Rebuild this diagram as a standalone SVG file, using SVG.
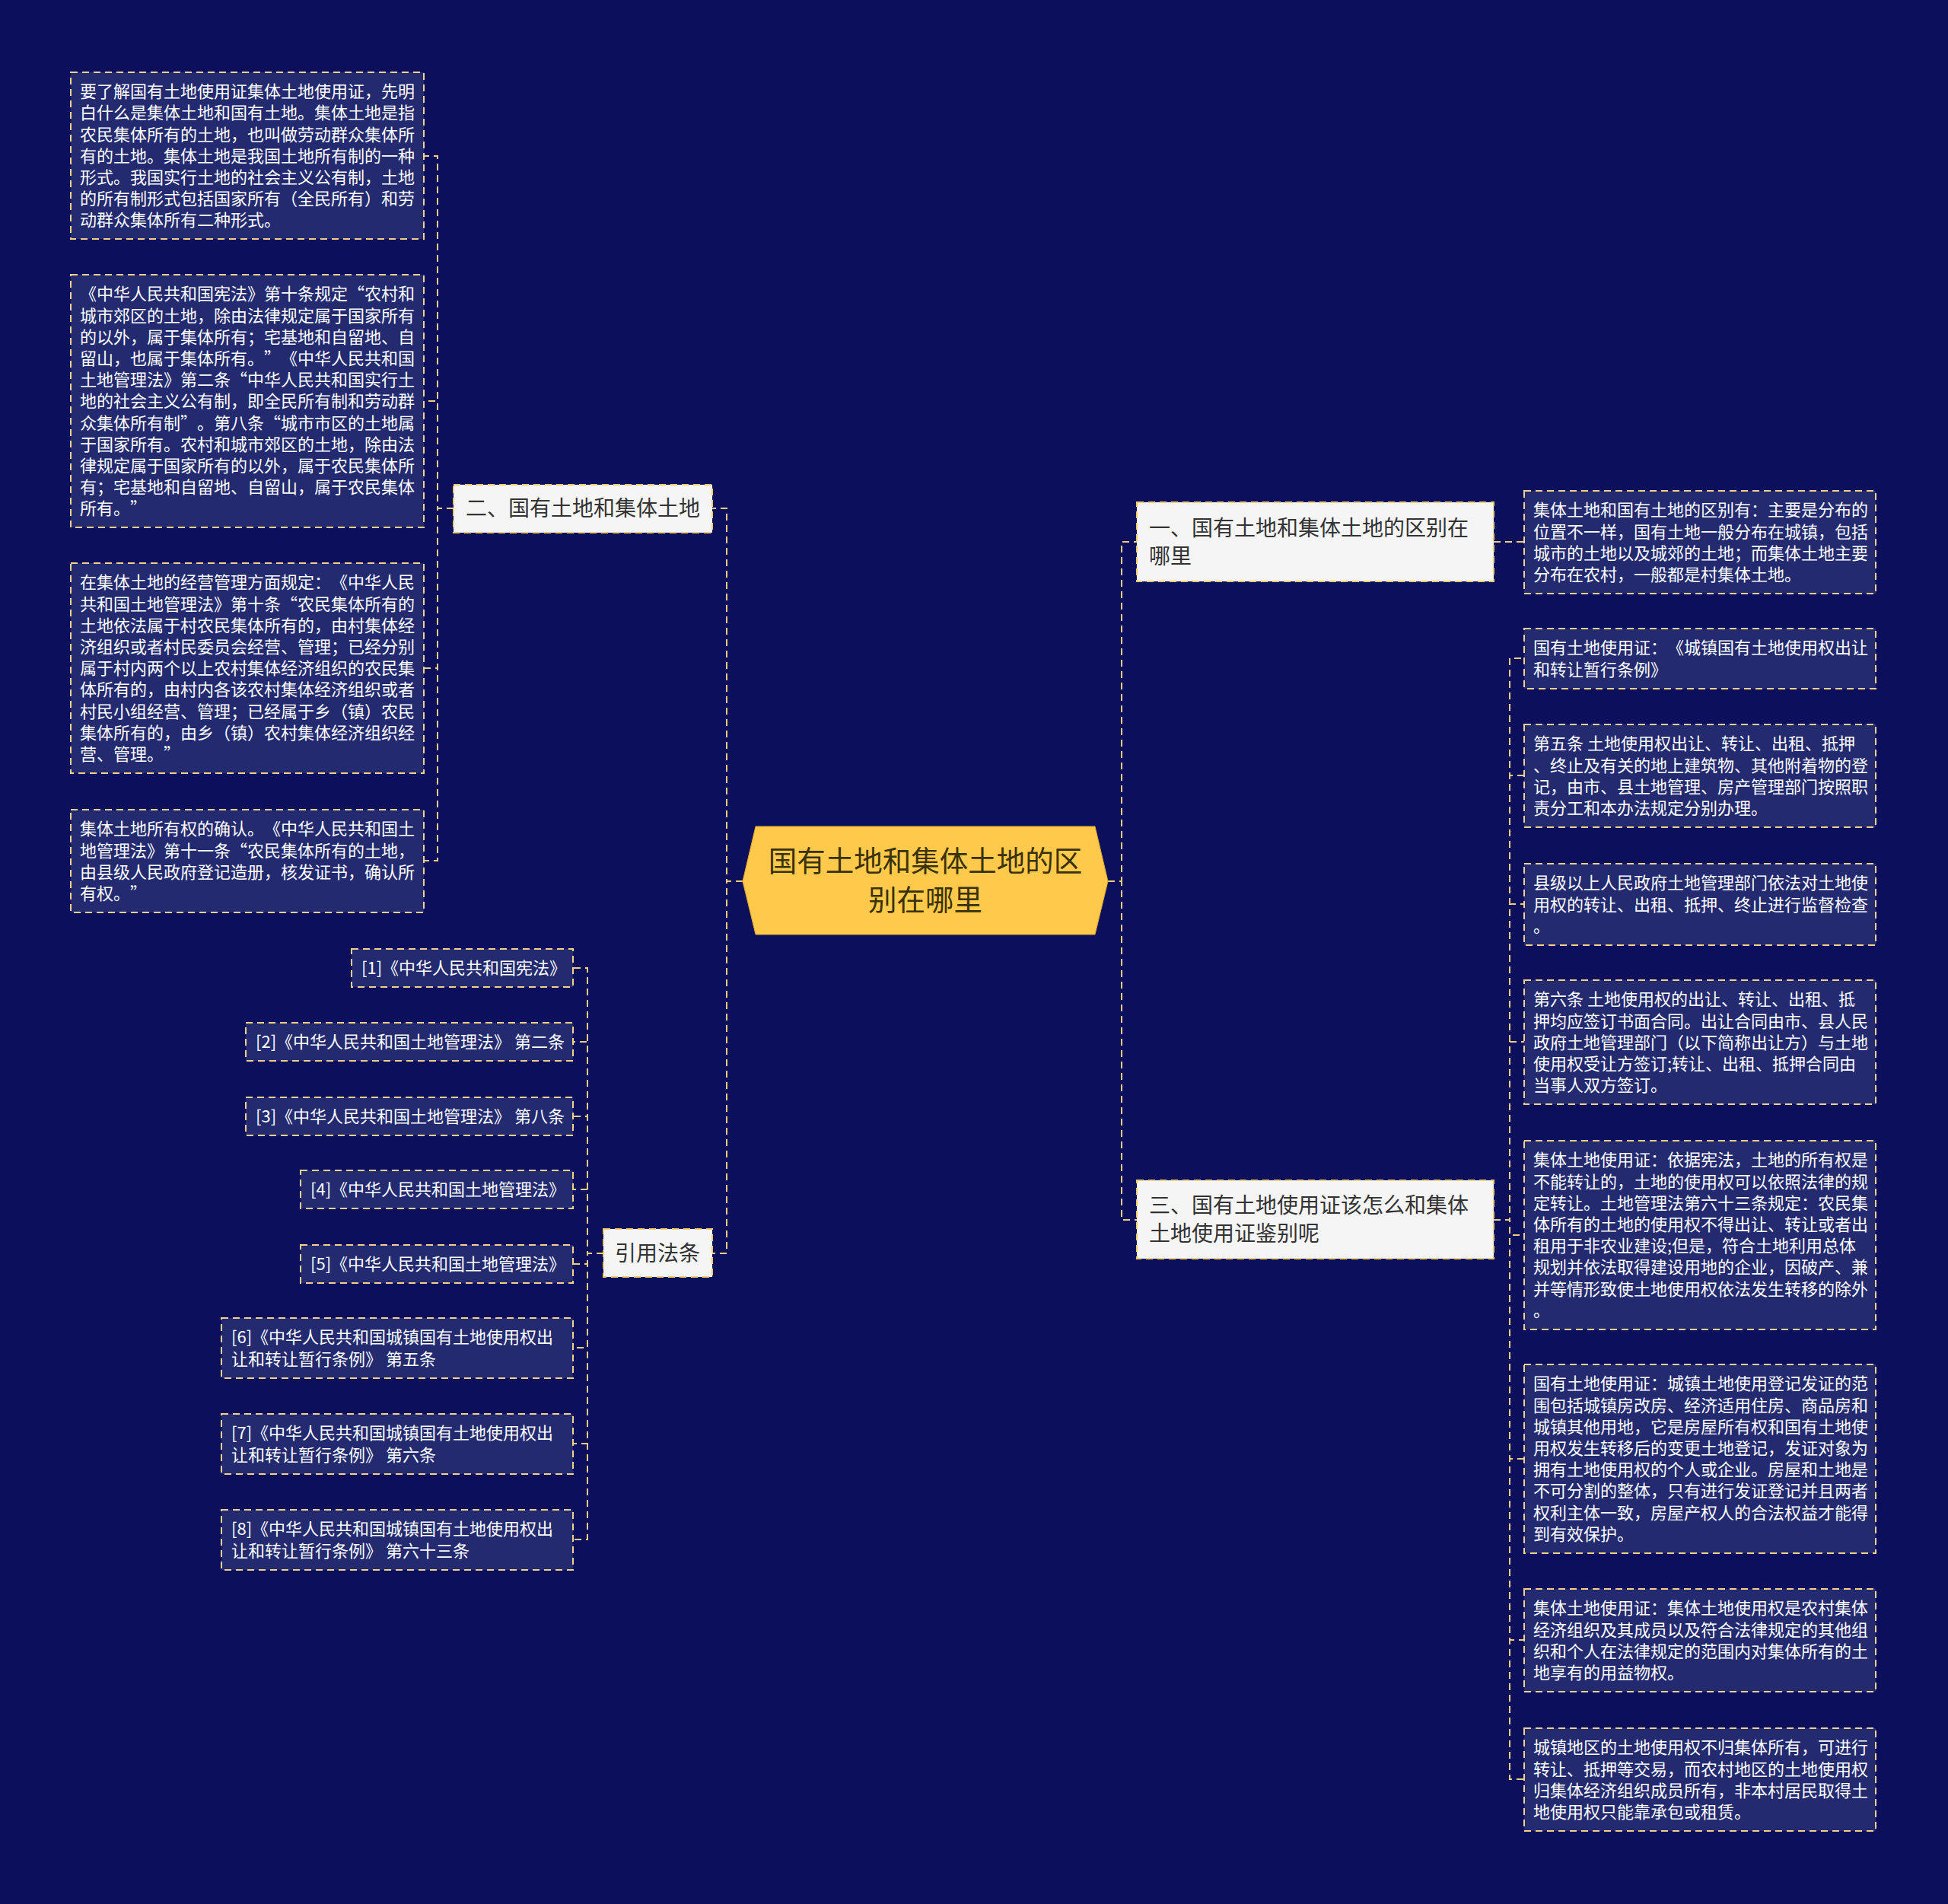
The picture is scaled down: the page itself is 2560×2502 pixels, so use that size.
<svg xmlns="http://www.w3.org/2000/svg" width="2560" height="2502" viewBox="0 0 2560 2502">
<style>
text{text-spacing-trim:space-all}
.n2 rect{fill:#232a6f;stroke:#f2d18c;stroke-width:2;stroke-dasharray:9 6}
.n1 rect{fill:#f5f5f5;stroke:#f2cc6e;stroke-width:2;stroke-dasharray:9 6}
.t2{font-family:"Noto Sans CJK SC","Noto Sans",sans-serif;font-size:22px;fill:#ffffff}
.tr{font-family:"Noto Sans CJK SC","Noto Sans",sans-serif;font-size:22px;fill:#ffffff}
.t1{font-family:"Noto Sans CJK SC","Noto Sans",sans-serif;font-size:28px;fill:#333333}
.t0{font-family:"Noto Sans CJK SC","Noto Sans",sans-serif;font-size:37.5px;fill:#3a3205}
.conn path{fill:none;stroke:#f0cd7e;stroke-width:2;stroke-dasharray:9 6}
</style>
<rect x="0" y="0" width="2560" height="2502" fill="#0b0f5c"/>
<g class="conn">
<path d="M976,1158 H955 V668 H936"/>
<path d="M976,1158 H955 V1647 H936"/>
<path d="M1456,1158 H1474 V712 H1494"/>
<path d="M1456,1158 H1474 V1603 H1494"/>
<path d="M596,668 H575 V205 H557"/>
<path d="M596,668 H575 V527 H557"/>
<path d="M596,668 H575 V878 H557"/>
<path d="M596,668 H575 V1131 H557"/>
<path d="M793,1647 H772 V1272 H753"/>
<path d="M793,1647 H772 V1369 H753"/>
<path d="M793,1647 H772 V1467 H753"/>
<path d="M793,1647 H772 V1563 H753"/>
<path d="M793,1647 H772 V1661 H753"/>
<path d="M793,1647 H772 V1771 H753"/>
<path d="M793,1647 H772 V1897 H753"/>
<path d="M793,1647 H772 V2023 H753"/>
<path d="M1963,712 H1984 V712 H2003"/>
<path d="M1963,1603 H1984 V865 H2003"/>
<path d="M1963,1603 H1984 V1019 H2003"/>
<path d="M1963,1603 H1984 V1188 H2003"/>
<path d="M1963,1603 H1984 V1369 H2003"/>
<path d="M1963,1603 H1984 V1623 H2003"/>
<path d="M1963,1603 H1984 V1917 H2003"/>
<path d="M1963,1603 H1984 V2155 H2003"/>
<path d="M1963,1603 H1984 V2338 H2003"/>
</g>
<g id="root">
<path d="M993,1086 H1439 L1456,1158 L1439,1228 H993 L976,1158 Z" fill="#ffc94b" stroke="#e0a82a" stroke-width="1"/>
<text class="t0" text-anchor="middle"><tspan x="1216" y="1145">国有土地和集体土地的区</tspan><tspan x="1216" y="1196">别在哪里</tspan></text>
</g>
<g id="n-er" class="n1"><rect x="596" y="637" width="340" height="63"/><text class="t1" x="612" y="678">二、国有土地和集体土地</text></g>
<g id="n-yin" class="n1"><rect x="793" y="1615" width="143" height="63"/><text class="t1" x="808" y="1657">引用法条</text></g>
<g id="n-yi" class="n1"><rect x="1494" y="660" width="469" height="104"/><text class="t1"><tspan x="1510" y="704">一、国有土地和集体土地的区别在</tspan><tspan x="1510" y="741">哪里</tspan></text></g>
<g id="n-san" class="n1"><rect x="1494" y="1551" width="469" height="103"/><text class="t1"><tspan x="1510" y="1594">三、国有土地使用证该怎么和集体</tspan><tspan x="1510" y="1631">土地使用证鉴别呢</tspan></text></g>

<g id="b1" class="n2"><rect x="93" y="95" width="464" height="219"/><text class="t2"><tspan x="105" y="128">要了解国有土地使用证集体土地使用证，先明</tspan><tspan x="105" y="156">白什么是集体土地和国有土地。集体土地是指</tspan><tspan x="105" y="185">农民集体所有的土地，也叫做劳动群众集体所</tspan><tspan x="105" y="213">有的土地。集体土地是我国土地所有制的一种</tspan><tspan x="105" y="241">形式。我国实行土地的社会主义公有制，土地</tspan><tspan x="105" y="269">的所有制形式包括国家所有（全民所有）和劳</tspan><tspan x="105" y="297">动群众集体所有二种形式。</tspan></text></g>
<g id="b2" class="n2"><rect x="93" y="361" width="464" height="332"/><text class="t2"><tspan x="105" y="394">《中华人民共和国宪法》第十条规定“农村和</tspan><tspan x="105" y="423">城市郊区的土地，除由法律规定属于国家所有</tspan><tspan x="105" y="451">的以外，属于集体所有；宅基地和自留地、自</tspan><tspan x="105" y="479">留山，也属于集体所有。”《中华人民共和国</tspan><tspan x="105" y="507">土地管理法》第二条“中华人民共和国实行土</tspan><tspan x="105" y="535">地的社会主义公有制，即全民所有制和劳动群</tspan><tspan x="105" y="564">众集体所有制”。第八条“城市市区的土地属</tspan><tspan x="105" y="592">于国家所有。农村和城市郊区的土地，除由法</tspan><tspan x="105" y="620">律规定属于国家所有的以外，属于农民集体所</tspan><tspan x="105" y="648">有；宅基地和自留地、自留山，属于农民集体</tspan><tspan x="105" y="676">所有。”</tspan></text></g>
<g id="b3" class="n2"><rect x="93" y="740" width="464" height="276"/><text class="t2"><tspan x="105" y="773">在集体土地的经营管理方面规定：《中华人民</tspan><tspan x="105" y="802">共和国土地管理法》第十条“农民集体所有的</tspan><tspan x="105" y="830">土地依法属于村农民集体所有的，由村集体经</tspan><tspan x="105" y="858">济组织或者村民委员会经营、管理；已经分别</tspan><tspan x="105" y="886">属于村内两个以上农村集体经济组织的农民集</tspan><tspan x="105" y="914">体所有的，由村内各该农村集体经济组织或者</tspan><tspan x="105" y="943">村民小组经营、管理；已经属于乡（镇）农民</tspan><tspan x="105" y="971">集体所有的，由乡（镇）农村集体经济组织经</tspan><tspan x="105" y="999">营、管理。”</tspan></text></g>
<g id="b4" class="n2"><rect x="93" y="1064" width="464" height="135"/><text class="t2"><tspan x="105" y="1097">集体土地所有权的确认。《中华人民共和国土</tspan><tspan x="105" y="1126">地管理法》第十一条“农民集体所有的土地，</tspan><tspan x="105" y="1154">由县级人民政府登记造册，核发证书，确认所</tspan><tspan x="105" y="1182">有权。”</tspan></text></g>

<g id="ref1" class="n2"><rect x="462" y="1247" width="291" height="50"/><text class="tr" x="475" y="1280">[1]《中华人民共和国宪法》</text></g>
<g id="ref2" class="n2"><rect x="323" y="1344" width="430" height="50"/><text class="tr" x="336" y="1377">[2]《中华人民共和国土地管理法》 第二条</text></g>
<g id="ref3" class="n2"><rect x="323" y="1442" width="430" height="50"/><text class="tr" x="336" y="1475">[3]《中华人民共和国土地管理法》 第八条</text></g>
<g id="ref4" class="n2"><rect x="395" y="1538" width="358" height="50"/><text class="tr" x="408" y="1571">[4]《中华人民共和国土地管理法》</text></g>
<g id="ref5" class="n2"><rect x="395" y="1636" width="358" height="50"/><text class="tr" x="408" y="1669">[5]《中华人民共和国土地管理法》</text></g>
<g id="ref6" class="n2"><rect x="291" y="1732" width="462" height="79"/><text class="tr"><tspan x="304" y="1765">[6]《中华人民共和国城镇国有土地使用权出</tspan><tspan x="304" y="1794">让和转让暂行条例》 第五条</tspan></text></g>
<g id="ref7" class="n2"><rect x="291" y="1858" width="462" height="79"/><text class="tr"><tspan x="304" y="1891">[7]《中华人民共和国城镇国有土地使用权出</tspan><tspan x="304" y="1920">让和转让暂行条例》 第六条</tspan></text></g>
<g id="ref8" class="n2"><rect x="291" y="1984" width="462" height="79"/><text class="tr"><tspan x="304" y="2017">[8]《中华人民共和国城镇国有土地使用权出</tspan><tspan x="304" y="2046">让和转让暂行条例》 第六十三条</tspan></text></g>

<g id="r1" class="n2"><rect x="2003" y="645" width="462" height="135"/><text class="t2"><tspan x="2015" y="678">集体土地和国有土地的区别有：主要是分布的</tspan><tspan x="2015" y="707">位置不一样，国有土地一般分布在城镇，包括</tspan><tspan x="2015" y="735">城市的土地以及城郊的土地；而集体土地主要</tspan><tspan x="2015" y="763">分布在农村，一般都是村集体土地。</tspan></text></g>
<g id="r2" class="n2"><rect x="2003" y="826" width="462" height="79"/><text class="t2"><tspan x="2015" y="859">国有土地使用证：《城镇国有土地使用权出让</tspan><tspan x="2015" y="888">和转让暂行条例》</tspan></text></g>
<g id="r3" class="n2"><rect x="2003" y="952" width="462" height="135"/><text class="t2"><tspan x="2015" y="985">第五条 土地使用权出让、转让、出租、抵押</tspan><tspan x="2015" y="1014">、终止及有关的地上建筑物、其他附着物的登</tspan><tspan x="2015" y="1042">记，由市、县土地管理、房产管理部门按照职</tspan><tspan x="2015" y="1070">责分工和本办法规定分别办理。</tspan></text></g>
<g id="r4" class="n2"><rect x="2003" y="1135" width="462" height="107"/><text class="t2"><tspan x="2015" y="1168">县级以上人民政府土地管理部门依法对土地使</tspan><tspan x="2015" y="1197">用权的转让、出租、抵押、终止进行监督检查</tspan><tspan x="2015" y="1225">。</tspan></text></g>
<g id="r5" class="n2"><rect x="2003" y="1288" width="462" height="163"/><text class="t2"><tspan x="2015" y="1321">第六条 土地使用权的出让、转让、出租、抵</tspan><tspan x="2015" y="1350">押均应签订书面合同。出让合同由市、县人民</tspan><tspan x="2015" y="1378">政府土地管理部门（以下简称出让方）与土地</tspan><tspan x="2015" y="1406">使用权受让方签订;转让、出租、抵押合同由</tspan><tspan x="2015" y="1434">当事人双方签订。</tspan></text></g>
<g id="r6" class="n2"><rect x="2003" y="1499" width="462" height="248"/><text class="t2"><tspan x="2015" y="1532">集体土地使用证：依据宪法，土地的所有权是</tspan><tspan x="2015" y="1561">不能转让的，土地的使用权可以依照法律的规</tspan><tspan x="2015" y="1589">定转让。土地管理法第六十三条规定：农民集</tspan><tspan x="2015" y="1617">体所有的土地的使用权不得出让、转让或者出</tspan><tspan x="2015" y="1645">租用于非农业建设;但是，符合土地利用总体</tspan><tspan x="2015" y="1673">规划并依法取得建设用地的企业，因破产、兼</tspan><tspan x="2015" y="1702">并等情形致使土地使用权依法发生转移的除外</tspan><tspan x="2015" y="1730">。</tspan></text></g>
<g id="r7" class="n2"><rect x="2003" y="1793" width="462" height="248"/><text class="t2"><tspan x="2015" y="1826">国有土地使用证：城镇土地使用登记发证的范</tspan><tspan x="2015" y="1855">围包括城镇房改房、经济适用住房、商品房和</tspan><tspan x="2015" y="1883">城镇其他用地，它是房屋所有权和国有土地使</tspan><tspan x="2015" y="1911">用权发生转移后的变更土地登记，发证对象为</tspan><tspan x="2015" y="1939">拥有土地使用权的个人或企业。房屋和土地是</tspan><tspan x="2015" y="1967">不可分割的整体，只有进行发证登记并且两者</tspan><tspan x="2015" y="1996">权利主体一致，房屋产权人的合法权益才能得</tspan><tspan x="2015" y="2024">到有效保护。</tspan></text></g>
<g id="r8" class="n2"><rect x="2003" y="2088" width="462" height="135"/><text class="t2"><tspan x="2015" y="2121">集体土地使用证：集体土地使用权是农村集体</tspan><tspan x="2015" y="2150">经济组织及其成员以及符合法律规定的其他组</tspan><tspan x="2015" y="2178">织和个人在法律规定的范围内对集体所有的土</tspan><tspan x="2015" y="2206">地享有的用益物权。</tspan></text></g>
<g id="r9" class="n2"><rect x="2003" y="2271" width="462" height="135"/><text class="t2"><tspan x="2015" y="2304">城镇地区的土地使用权不归集体所有，可进行</tspan><tspan x="2015" y="2333">转让、抵押等交易，而农村地区的土地使用权</tspan><tspan x="2015" y="2361">归集体经济组织成员所有，非本村居民取得土</tspan><tspan x="2015" y="2389">地使用权只能靠承包或租赁。</tspan></text></g>
</svg>
